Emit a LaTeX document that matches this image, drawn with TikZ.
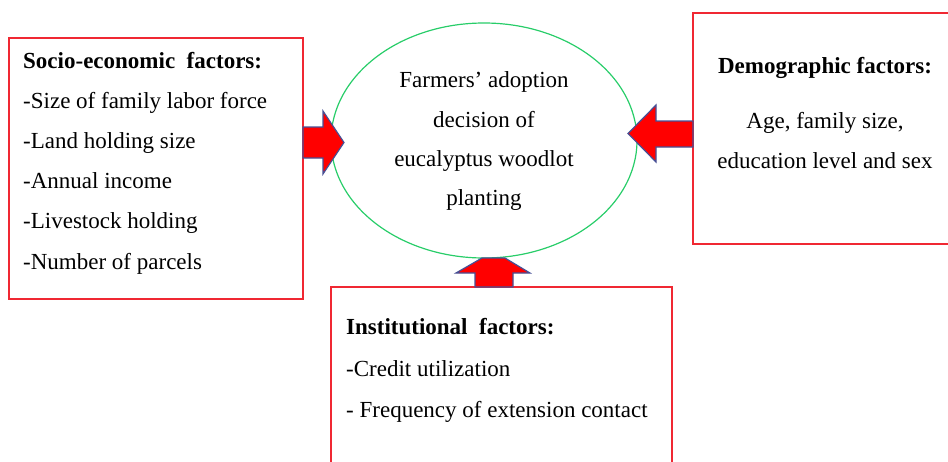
\documentclass[tikz,border=0pt]{standalone}
\usepackage{fontspec}
\setmainfont{Liberation Serif}
\usetikzlibrary{shapes.geometric}
\definecolor{boxred}{RGB}{240,40,50}
\definecolor{arrred}{RGB}{255,0,0}
\definecolor{arredge}{RGB}{70,80,150}
\definecolor{ellgreen}{RGB}{40,205,105}
\begin{document}
\begin{tikzpicture}[x=1pt,y=-1pt,
  factorbox/.style={draw=boxred,line width=1.2pt},
  txt/.style={inner sep=0pt,font=\fontsize{23}{27}\selectfont},
  bigarrow/.style={fill=arrred,draw=arredge,line width=1.2pt,line join=miter}]
\useasboundingbox (0,0) rectangle (948,461);
\begin{scope}
\clip (0,0) rectangle (948,461);
% boxes
\draw[factorbox] (9,38) rectangle (303,299);
\draw[factorbox] (693,13) rectangle (960,244);
\draw[factorbox] (331,287) rectangle (672,480);
\end{scope}
% ellipse
\node[draw=ellgreen,line width=1.2pt,ellipse,minimum width=306pt,minimum height=235pt,inner sep=0pt] (goal) at (484,140.5) {};
% arrows
\draw[bigarrow] (303,127) -- (323,127) -- (323,111) -- (344,142.5) -- (323,174) -- (323,158) -- (303,158) -- cycle;
\draw[bigarrow] (693,121) -- (656,121) -- (656,105) -- (628,133.5) -- (656,162) -- (656,147) -- (693,147) -- cycle;
\draw[bigarrow] (475,287) -- (475,273) -- (456,273) -- (482,258) -- (505,258) -- (530,273) -- (513,273) -- (513,287) -- cycle;
% left box text
\node[txt,anchor=base west] (s0) at (23,68) {\textbf{Socio-economic\ \ factors:}};
\node[txt,anchor=base west] (s1) at (23,108.2) {-Size of family labor force};
\node[txt,anchor=base west] (s2) at (23,148.4) {-Land holding size};
\node[txt,anchor=base west] (s3) at (23,188.6) {-Annual income};
\node[txt,anchor=base west] (s4) at (23,228.8) {-Livestock holding};
\node[txt,anchor=base west] (s5) at (23,269) {-Number of parcels};
% ellipse text
\node[txt,anchor=base] (e1) at (484,87) {Farmers’ adoption};
\node[txt,anchor=base] (e2) at (484,127) {decision of};
\node[txt,anchor=base] (e3) at (484,166.5) {eucalyptus woodlot};
\node[txt,anchor=base] (e4) at (484,205) {planting};
% right box text
\node[txt,anchor=base] (d0) at (825,73) {\textbf{Demographic factors:}};
\node[txt,anchor=base] (d1) at (825,128) {Age, family size,};
\node[txt,anchor=base] (d2) at (825,168) {education level and sex};
% bottom box text
\node[txt,anchor=base west] (i0) at (346,334) {\textbf{Institutional\ \ factors:}};
\node[txt,anchor=base west] (i1) at (346,376) {-Credit utilization};
\node[txt,anchor=base west] (i2) at (346,417) {- Frequency of extension contact};
\end{tikzpicture}
\end{document}
